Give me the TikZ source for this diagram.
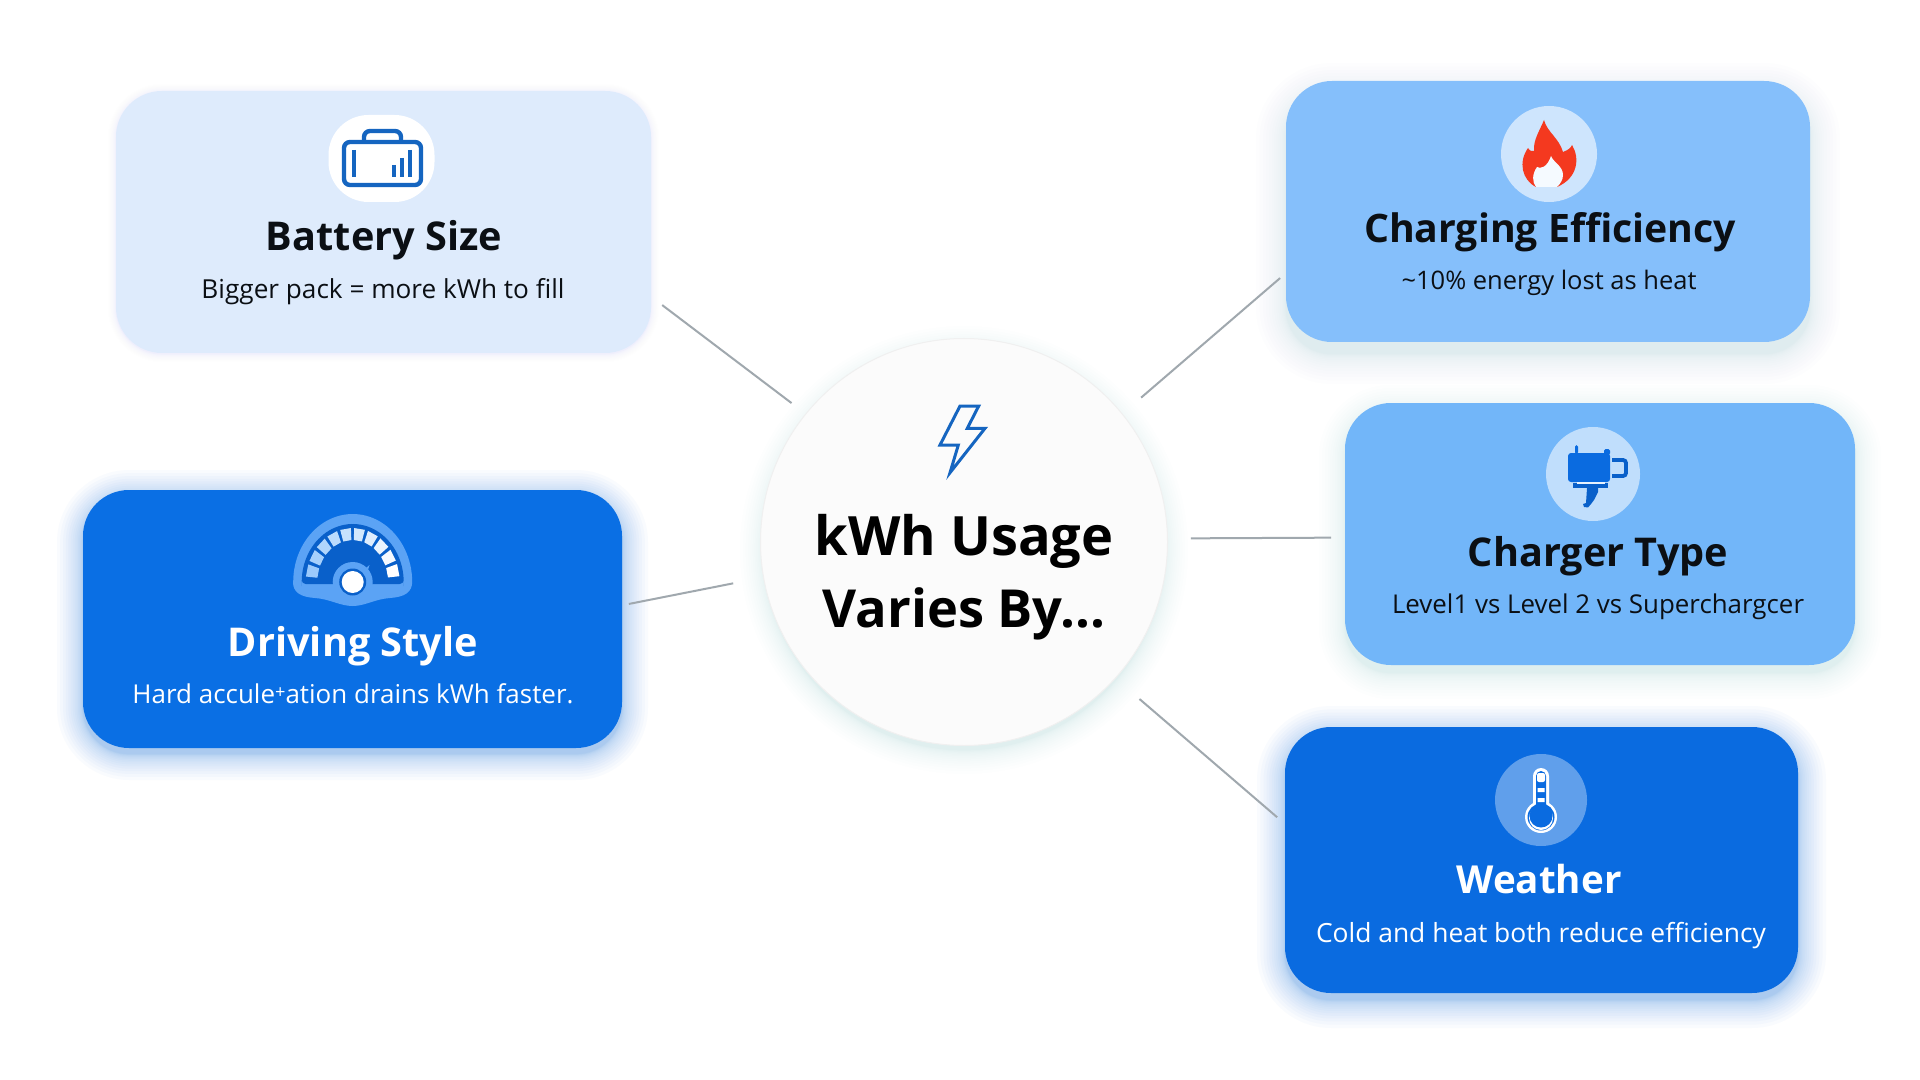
\documentclass[tikz,border=0pt]{standalone}
\usepackage{fontspec}
\usepackage{graphicx}
\setmainfont{Open Sans}
\definecolor{iconblue}{HTML}{1565C0}
\definecolor{cardpale}{HTML}{DEEBFC}
\definecolor{cardmid}{HTML}{85BFFB}
\definecolor{cardmidb}{HTML}{72B6F9}
\definecolor{carddeep}{HTML}{0A6FE4}
\definecolor{carddeepb}{HTML}{0A6BE0}
\definecolor{inktext}{HTML}{0B0F14}
\definecolor{linegray}{HTML}{A0A8AE}
\definecolor{flamered}{HTML}{F4391F}
\definecolor{halo}{HTML}{5BA3F5}
\newcommand{\tw}[2]{\resizebox{\dimexpr#1pt/2\relax}{!}{#2}}
% x1,y1,x2,y2,colour,y offset,max spread,opacity
\newcommand{\softbox}[8]{%
  \foreach \s in {16,15,...,1}{%
    \pgfmathsetmacro{\sp}{#7*(\s/16)*(\s/16)}%
    \pgfmathsetmacro{\rc}{23+\sp*.5}%
    \fill[#5,opacity=#8,rounded corners=\rc pt]
      ({#1-\sp},{#2-\sp+#6}) rectangle ({#3+\sp},{#4+\sp+#6});
  }%
}
\tikzset{
  x=.5pt,y=-.5pt,
  card/.style={draw=none,rounded corners=23pt,inner sep=0,outer sep=0},
  ttl/.style={anchor=base,inner sep=0,outer sep=0,font=\bfseries},
  sub/.style={anchor=base,inner sep=0,outer sep=0},
  conn/.style={draw=linegray,line width=1pt},
  badge/.style={circle,draw=none,inner sep=0,outer sep=0}
}
\begin{document}
\begin{tikzpicture}
\useasboundingbox (0,0) rectangle (1920,1080);
\fill[white] (0,0) rectangle (1920,1080);
% soft shadows
\softbox{116}{91}{651}{353}{cardpale}{1}{8}{.012}
\softbox{83}{490}{622}{748}{carddeep}{6}{26}{.022}
\softbox{1286}{81}{1810}{342}{cardmid!70!iconblue}{12}{30}{.012}
\softbox{1345}{403}{1855}{665}{cardmid!80!iconblue}{8}{26}{.01}
\softbox{1285}{727}{1798}{993}{carddeep}{7}{28}{.022}
\foreach \s in {16,15,...,1}{\pgfmathsetmacro{\sp}{24*(\s/16)*(\s/16)}\fill[cardmid!70!iconblue,opacity=.007] (964,{550}) circle ({200+\sp});}
% cards
\node[card,fill=cardpale,minimum width=267.5pt,minimum height=131pt] (battery) at (383.5,222) {};
\node[card,fill=carddeep,minimum width=269.5pt,minimum height=129pt] (driving) at (352.5,619) {};
\node[card,fill=cardmid,minimum width=262pt,minimum height=130.5pt] (charging) at (1548,211.5) {};
\node[card,fill=cardmidb,minimum width=255pt,minimum height=131pt] (charger) at (1600,534) {};
\node[card,fill=carddeepb,minimum width=256.5pt,minimum height=133pt] (weather) at (1541.5,860) {};
\node[circle,fill=black!1.5!white,draw=black!6,line width=.5pt,minimum size=203.5pt,inner sep=0,outer sep=0] (hub) at (964,542) {};
% connectors
\draw[conn,shorten <=9pt,shorten >=7pt] (hub.141.2) -- ([yshift=-37.3pt]battery.east);
\draw[conn,shorten <=15.5pt,shorten >=3.5pt] (hub.190.4) -- ([yshift=6.85pt]driving.east);
\draw[conn,shorten <=12.5pt,shorten >=3.9pt] (hub.39.8) -- ([yshift=-30.75pt]charging.west);
\draw[conn,shorten <=11.7pt,shorten >=7pt] (hub.1.8) -- ([yshift=-1.8pt]charger.west);
\draw[conn,shorten <=16pt,shorten >=5.2pt] (hub.-42.1) -- ([yshift=18pt]weather.west);
% bolt
\draw[iconblue,line width=1.5pt,line join=miter] (960,406) -- (978.7,406) -- (967.3,428.3) -- (985,428.3) -- (950,472.7) -- (958.3,445) -- (940,445) -- cycle;
% battery icon
\node[draw=none,fill=white,rounded corners=20pt,minimum width=53pt,minimum height=43.5pt,inner sep=0,outer sep=0] (batbadge) at (381.5,158.5) {};
\draw[iconblue,line width=2.2pt,rounded corners=3pt] (344,142) rectangle (421,185);
\draw[iconblue,line width=2.2pt,rounded corners=3pt] (364,142) -- (364,131) -- (401,131) -- (401,142);
\draw[iconblue,line width=1.7pt] (354,150) -- (354,177) (394,165) -- (394,177) (402,158) -- (402,177) (410,150) -- (410,177);
% flame icon
\node[badge,fill=cardmid!40!white,minimum size=48pt] (flamebadge) at (1549,154) {};
\fill[flamered] (1544,120) .. controls (1547,132) and (1559,138) .. (1563,152) .. controls (1568,150) and (1571,148) .. (1572,145) .. controls (1580,158) and (1578,178) .. (1557,187) -- (1536,187) .. controls (1522,180) and (1518,162) .. (1528,148) .. controls (1530,151) and (1532,152) .. (1534,151) .. controls (1533,140) and (1540,130) .. (1544,120) -- cycle;
\fill[white!92!cardmid] (1551,156) .. controls (1553,162) and (1563,166) .. (1563,175) .. controls (1563,180) and (1560,184) .. (1557,187) -- (1536,187) .. controls (1532,182) and (1532,174) .. (1537,167) .. controls (1540,169) and (1547,168) .. (1551,156) -- cycle;
% plug icon
\node[badge,fill=cardmidb!45!white,minimum size=47pt] (plugbadge) at (1593,474) {};
\fill[carddeepb,rounded corners=1.5pt] (1568,453) rectangle (1610,482);
\fill[carddeepb,rounded corners=.8pt] (1575,445) rectangle (1578,454) (1604,449) rectangle (1610,455);
\draw[carddeepb!90!black,line width=1.9pt,rounded corners=1.5pt] (1612,460) -- (1626,460) -- (1626,476) -- (1612,476);
\fill[carddeepb!90!black] (1573,483) rectangle (1608,488);
\fill[white!80!cardmid] (1577,482) rectangle (1605,484);
\fill[carddeepb!90!black] (1587,488) -- (1598,488) -- (1598,492) -- (1596,496) -- (1594,500) -- (1591,504) -- (1588,507.5) -- (1584,507) -- (1583,504) -- (1586,503) -- cycle;
% thermometer icon
\node[badge,fill=carddeepb!65!white,minimum size=46pt] (thermbadge) at (1541,800) {};
\fill[white] (1541,817) circle (16);
\fill[white,rounded corners=4pt] (1533,768) rectangle (1549,812);
\fill[carddeepb] (1541,817) circle (13.5);
\fill[carddeepb,rounded corners=2.5pt] (1536,771) rectangle (1546,812);
\fill[white] (1541,818) circle (12);
\fill[carddeepb] (1541,816) circle (11.5);
\fill[white,rounded corners=1pt] (1537,773) rectangle (1545,782);
\fill[white] (1537.5,788) rectangle (1544.5,792) (1537.5,798) rectangle (1544.5,802);
% gauge icon
\fill[halo] plot[domain=180:0,samples=50] ({352.7+59.5*cos(\x)},{582-68*sin(\x)}) .. controls (412,592) and (405,597) .. (390,598) .. controls (375,599) and (365,606) .. (352.7,606) .. controls (340,606) and (330,599) .. (315,598) .. controls (300,597) and (293,592) .. (293,582) -- cycle;
\fill[carddeepb!90!black,rounded corners=2pt] plot[domain=180:0,samples=50] ({352.7+51*cos(\x)},{582-58*sin(\x)}) -- (403.7,584) -- (301.7,584) -- cycle;
\foreach \i [evaluate=\i as \a using 167.6-\i*17.2, evaluate=\i as \m using 18+\i*9.1] in {0,...,9}{%
  \pgfmathsetmacro{\pa}{\a-6.6}\pgfmathsetmacro{\pb}{\a+6.6}
  \fill[white!\m!cardmid] ({352.7+35.5*cos(\pa)},{582-42*sin(\pa)}) -- ({352.7+47*cos(\pa)},{582-54*sin(\pa)}) -- ({352.7+47*cos(\pb)},{582-54*sin(\pb)}) -- ({352.7+35.5*cos(\pb)},{582-42*sin(\pb)}) -- cycle;
}
\fill[halo] (352.7,582) circle (20);
\fill[halo] (366,568) -- (369.5,565) -- (368,570) -- cycle;
\fill[carddeepb!90!black] (352.7,582) circle (13.5);
\node[badge,fill=white,minimum size=11pt] (gaugedot) at (352.7,582) {};
% texts
\node[ttl,text=inktext] (t1) at (384,251) {\tw{236}{Battery Size}};
\node[sub,text=inktext] (s1) at (383,299) {\tw{363}{Bigger pack = more kWh to fill}};
\node[ttl,text=white] (t2) at (353,656) {\tw{250}{Driving Style}};
\node[sub,text=white] (s2) at (353,703) {\tw{441}{Hard accule\raisebox{.3ex}{\scriptsize +}ation drains kWh faster.}};
\node[ttl,text=inktext] (t3) at (1550,243) {\tw{372}{Charging Efficiency}};
\node[sub,text=inktext] (s3) at (1549,290) {\tw{295}{\char`~10\% energy lost as heat}};
\node[ttl,text=inktext] (t4) at (1598,566) {\tw{260}{Charger Type}};
\node[sub,text=inktext] (s4) at (1598,613) {\tw{412}{Level1 vs Level 2 vs Superchargcer}};
\node[ttl,text=white] (t5) at (1539,893) {\tw{165}{Weather}};
\node[sub,text=white] (s5) at (1541,942) {\tw{450}{Cold and heat both reduce efficiency}};
\node[ttl,text=black] (h1) at (964,555) {\tw{299}{kWh Usage}};
\node[ttl,text=black] (h2) at (964,627) {\tw{283}{Varies By...}};
\end{tikzpicture}
\end{document}
